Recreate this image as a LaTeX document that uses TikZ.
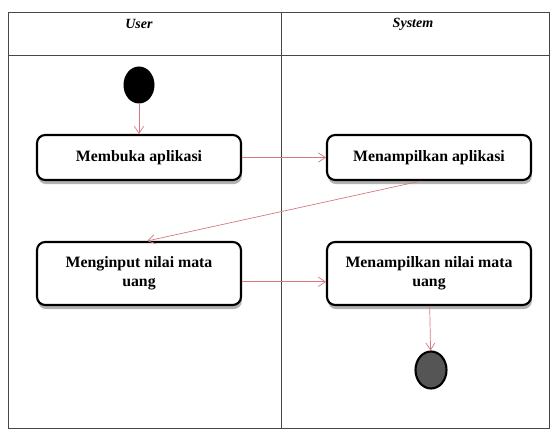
\documentclass[tikz,border=0pt]{standalone}
\usepackage{fontspec}
\setmainfont{Liberation Serif}
\definecolor{flowpink}{RGB}{214, 120, 130}
\definecolor{laneline}{RGB}{70, 70, 70}
\definecolor{endgray}{RGB}{85, 85, 85}
\usetikzlibrary{shapes, arrows.meta, positioning, calc, shadows}

\begin{document}
\begin{tikzpicture}[x=0.03cm, y=-0.03cm,
    activity/.style={draw=black, line width=1.8pt, rounded corners=7pt, fill=white,
      minimum width=6.12cm, align=center, font=\bfseries\fontsize{13.5}{16}\selectfont,
      drop shadow={shadow xshift=0.8pt, shadow yshift=-3.5pt, fill=black!60}},
    flow/.style={flowpink, line width=0.6pt, -{Straight Barb[length=6pt, width=8pt]}},
    lanehead/.style={font=\itshape\bfseries\large}]
  \useasboundingbox (0,0) rectangle (550,431);

  % Swimlanes
  \draw[laneline, line width=0.8pt] (8,12) rectangle (549,428);
  \draw[laneline, line width=0.8pt] (8,55) -- (549,55);
  \draw[laneline, line width=0.8pt] (281,12) -- (281,428);
  \node[lanehead] (user) at (139,24) {User};
  \node[lanehead] (system) at (413,24) {System};

  % Start and end
  \node[ellipse, fill=black, minimum width=0.93cm, minimum height=1.11cm, inner sep=0pt] (start) at (139,85) {};
  \node[ellipse, draw=black, line width=1.8pt, fill=endgray, minimum width=0.93cm, minimum height=1.11cm, inner sep=0pt] (stop) at (431,370) {};

  % Activities
  \node[activity, minimum height=1.35cm] (buka) at (139,157.5) {Membuka aplikasi};
  \node[activity, minimum height=1.35cm] (tampil) at (429,157.5) {Menampilkan aplikasi};
  \node[activity, minimum height=1.89cm] (input) at (139,273.5) {Menginput nilai mata\\uang};
  \node[activity, minimum height=1.89cm] (nilai) at (429,273.5) {Menampilkan nilai mata\\uang};

  % Flows
  \draw[flow] (start) -- (buka);
  \draw[flow] (buka) -- (tampil);
  \draw[flow] ([xshift=-0.25cm]tampil.south) -- ([xshift=0.25cm]input.north);
  \draw[flow] ([yshift=-0.25cm]input.east) -- ([yshift=-0.25cm]nilai.west);
  \draw[flow] (nilai) -- (stop);
\end{tikzpicture}
\end{document}
